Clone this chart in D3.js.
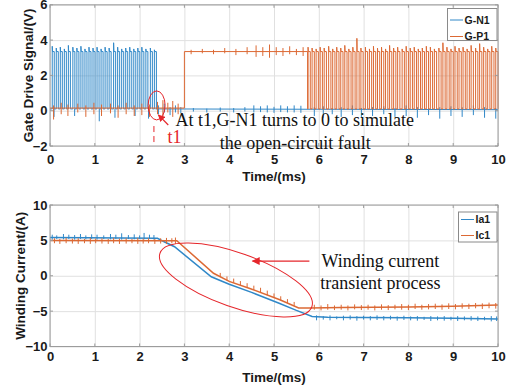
<!DOCTYPE html>
<html>
<head>
<meta charset="utf-8">
<script src="https://cdn.jsdelivr.net/npm/d3@7"></script>
<style>
  html, body { margin: 0; padding: 0; background: #fff; }
  svg { display: block; }
  .tick-label { font-family: "Liberation Sans", Arial, sans-serif; font-weight: bold; font-size: 13px; fill: #1a1a1a; }
  .axis-title { font-family: "Liberation Sans", Arial, sans-serif; font-weight: bold; font-size: 13.5px; fill: #1a1a1a; }
  .legend-text { font-family: "Liberation Sans", Arial, sans-serif; font-weight: bold; font-size: 10.5px; fill: #1a1a1a; }
  .note { font-family: "Liberation Serif", "Times New Roman", serif; font-size: 18px; fill: #111; }
</style>
</head>
<body>
<svg id="chart" width="516" height="389"></svg>
<script>
// ---------- shared axis data ----------
const timeTicks = [0, 1, 2, 3, 4, 5, 6, 7, 8, 9, 10];
const gateTicks = [-2, 0, 2, 4, 6];
const currentTicks = [-10, -5, 0, 5, 10];

// ---------- gate drive signals (V) ----------
const gateLevelLow = 0.1;
const gateLevelHigh = 3.35;
// G-N1 PWM rising edges (ms) before the fault and pulse overshoot peaks (V)
const gn1Rise = [0.05, 0.14, 0.23, 0.32, 0.41, 0.51, 0.60, 0.69, 0.78, 0.87, 0.96, 1.05, 1.14,
                 1.23, 1.32, 1.42, 1.51, 1.60, 1.69, 1.78, 1.87, 1.96, 2.05, 2.14, 2.24, 2.33];
const gn1Peak = [3.65, 3.55, 3.6, 3.5, 3.7, 3.6, 3.55, 3.65, 3.5, 3.6, 3.55, 3.6, 3.5,
                 3.6, 3.55, 3.85, 3.6, 3.5, 3.55, 3.6, 3.5, 3.55, 3.6, 3.5, 3.55, 3.45];
const gn1Width = 0.045;
const gn1FaultTime = 2.36;
// G-N1 noise spikes: [time, low, high]
const gn1Noise = [
  [0.09, -0.35, 0.1], [0.55, -0.3, 0.1], [1.1, -0.6, 0.1], [1.45, -0.4, 0.1], [1.9, -0.3, 0.1], [2.2, -0.45, 0.1],
  [2.42, -0.2, 0.3], [2.55, -0.1, 0.4], [2.68, -0.25, 0.2], [2.8, -0.1, 0.3], [2.92, -0.15, 0.2],
  [3.2, -0.05, 0.15], [3.5, -0.1, 0.12], [3.8, -0.05, 0.18], [4.1, -0.1, 0.15], [4.35, -0.05, 0.2],
  [4.55, -0.1, 0.3], [4.7, -0.08, 0.25], [4.85, -0.1, 0.3], [5.0, -0.12, 0.22], [5.15, -0.08, 0.3],
  [5.3, -0.1, 0.25], [5.45, -0.1, 0.3], [5.6, -0.12, 0.28],
  [5.9, -0.3, 0.2], [6.1, -0.4, 0.25], [6.3, -0.2, 0.15], [6.5, -0.35, 0.2], [6.75, -0.25, 0.3],
  [6.95, -0.4, 0.15], [7.2, -0.3, 0.2], [7.45, -0.2, 0.25], [7.7, -0.35, 0.15], [7.95, -0.3, 0.3],
  [8.2, -0.4, 0.2], [8.45, -0.25, 0.15], [8.7, -0.45, 0.2], [8.95, -0.3, 0.25], [9.2, -0.35, 0.2],
  [9.45, -0.25, 0.3], [9.7, -0.4, 0.2], [9.95, -0.45, 0.15]
];

// G-P1: low until 3 ms, held high until 5.75 ms, then PWM
const gp1StepUp = 3.0;
const gp1PwmStart = 5.75;
const gp1Rise = [5.76, 5.85, 5.94, 6.03, 6.12, 6.22, 6.31, 6.40, 6.49, 6.58, 6.67, 6.76, 6.85, 6.94,
                 7.04, 7.13, 7.22, 7.31, 7.40, 7.49, 7.58, 7.67, 7.76, 7.86, 7.95, 8.04, 8.13, 8.22,
                 8.31, 8.40, 8.49, 8.58, 8.68, 8.77, 8.86, 8.95, 9.04, 9.13, 9.22, 9.31, 9.40, 9.50,
                 9.59, 9.68, 9.77, 9.86, 9.95];
const gp1Peak = [3.6, 3.55, 3.5, 3.6, 3.55, 3.65, 3.5, 3.6, 3.55, 3.7, 3.5, 3.6, 4.1, 3.55,
                 3.6, 3.5, 3.65, 3.55, 3.6, 3.5, 3.7, 3.55, 3.6, 3.5, 3.65, 3.55, 3.6, 3.5,
                 3.55, 3.65, 3.6, 3.5, 3.55, 3.85, 3.6, 3.5, 3.65, 3.55, 3.6, 3.5, 3.7, 3.55,
                 3.8, 3.6, 3.5, 3.65, 3.55];
const gp1Width = 0.05;
const gp1Noise = [
  [0.08, -0.5, 0.3], [0.25, -0.2, 0.45], [0.4, -0.3, 0.35], [0.62, -0.1, 0.4], [0.8, -0.35, 0.3],
  [0.98, -0.2, 0.45], [1.15, -0.3, 0.35], [1.35, -0.15, 0.4], [1.52, -0.4, 0.3], [1.7, -0.2, 0.45],
  [1.88, -0.3, 0.3], [2.05, -0.25, 0.4], [2.22, -0.35, 0.35], [2.4, -0.2, 0.5], [2.52, -0.3, 0.6],
  [2.63, -0.1, 0.45], [2.74, -0.35, 0.55], [2.86, -0.2, 0.4],
  [3.15, 3.2, 3.45], [3.4, 3.25, 3.5], [3.65, 3.2, 3.45], [3.9, 3.25, 3.55], [4.15, 3.15, 3.5],
  [4.4, 3.2, 3.6], [4.6, 3.05, 3.7], [4.75, 3.1, 3.6], [4.9, 3.0, 3.75], [5.05, 3.15, 3.6],
  [5.2, 3.1, 3.55], [5.35, 3.2, 3.65], [5.5, 3.15, 3.5], [5.65, 3.1, 3.6]
];

// ---------- winding currents (A) ----------
const ia1Time  = [0, 2.4, 2.55, 2.78, 3.6, 4.0, 4.5, 5.1, 5.5, 5.85, 6.2, 7, 8, 9, 10];
const ia1Value = [5.4, 5.3, 4.8, 4.1, -0.15, -1.2, -2.35, -3.85, -4.9, -5.75, -5.85, -5.9, -5.95, -6.0, -6.1];
const ic1Time  = [0, 2.83, 3.65, 4.0, 4.46, 5.13, 5.55, 5.8, 6.5, 8, 9, 10];
const ic1Value = [5.0, 4.95, 0.35, -0.8, -1.8, -3.4, -4.55, -4.55, -4.5, -4.4, -4.3, -4.15];
// ripple spikes: [time, low, high]
const ia1Ripple = [
  [0.05, 5.1, 5.8], [0.15, 5.2, 5.7], [0.3, 5.15, 5.9], [0.42, 5.2, 5.8], [0.55, 5.1, 5.75],
  [0.68, 5.2, 5.9], [0.8, 5.15, 5.7], [0.93, 5.2, 5.85], [1.05, 5.1, 5.8], [1.2, 5.2, 5.7],
  [1.35, 5.15, 5.9], [1.47, 5.2, 5.8], [1.6, 5.1, 6.0], [1.75, 5.2, 5.75], [1.88, 5.15, 5.85],
  [2.0, 5.2, 5.7], [2.1, 5.15, 6.05], [2.22, 5.2, 5.8], [2.32, 5.1, 5.75],
  [5.95, -6.3, -5.6], [6.1, -6.2, -5.7], [6.25, -6.3, -5.6], [6.4, -6.15, -5.75], [6.55, -6.3, -5.65],
  [6.7, -6.2, -5.6], [6.85, -6.35, -5.7], [7.0, -6.2, -5.65], [7.15, -6.3, -5.7], [7.3, -6.25, -5.6],
  [7.45, -6.3, -5.7], [7.6, -6.2, -5.65], [7.75, -6.35, -5.75], [7.9, -6.25, -5.65], [8.05, -6.3, -5.75],
  [8.2, -6.35, -5.7], [8.35, -6.25, -5.8], [8.5, -6.4, -5.7], [8.65, -6.3, -5.75], [8.8, -6.35, -5.7],
  [8.95, -6.3, -5.8], [9.1, -6.4, -5.7], [9.25, -6.3, -5.75], [9.4, -6.35, -5.7], [9.55, -6.4, -5.75],
  [9.7, -6.3, -5.8], [9.85, -6.45, -5.7], [9.97, -6.4, -5.75]
];
const ic1Ripple = [
  [0.1, 4.6, 5.3], [0.22, 4.5, 5.2], [0.36, 4.6, 5.35], [0.5, 4.55, 5.25], [0.63, 4.5, 5.3],
  [0.77, 4.6, 5.2], [0.9, 4.5, 5.35], [1.02, 4.6, 5.25], [1.16, 4.55, 5.3], [1.3, 4.5, 5.2],
  [1.42, 4.6, 5.35], [1.55, 4.5, 5.25], [1.7, 4.55, 5.3], [1.83, 4.6, 5.2], [1.96, 4.5, 5.35],
  [2.08, 4.55, 5.25], [2.2, 4.6, 5.3], [2.34, 4.5, 5.2], [2.47, 4.55, 5.3], [2.6, 4.5, 5.35],
  [2.72, 4.6, 5.3], [2.8, 4.5, 5.4],
  [3.8, -0.2, 0.4], [3.95, -0.65, -0.1], [4.1, -1.0, -0.4], [4.25, -1.35, -0.75], [4.4, -1.65, -1.05],
  [4.55, -2.0, -1.4], [4.7, -2.35, -1.7], [4.85, -2.75, -2.1], [5.0, -3.1, -2.5], [5.15, -3.45, -2.9],
  [5.3, -3.85, -3.3], [5.45, -4.25, -3.7],
  [5.9, -4.8, -4.1], [6.05, -4.9, -4.2], [6.2, -4.8, -4.0], [6.35, -4.85, -4.2], [6.5, -4.8, -4.1],
  [6.65, -4.9, -4.2], [6.8, -4.75, -4.05], [6.95, -4.85, -4.15], [7.1, -4.8, -4.1], [7.25, -4.9, -4.2],
  [7.4, -4.8, -4.05], [7.55, -4.85, -4.15], [7.7, -4.75, -4.1], [7.85, -4.8, -4.0], [8.0, -4.85, -4.1],
  [8.15, -4.7, -3.95], [8.3, -4.8, -4.1], [8.45, -4.75, -4.0], [8.6, -4.7, -3.95], [8.75, -4.8, -4.05],
  [8.9, -4.7, -3.9], [9.05, -4.75, -4.0], [9.2, -4.65, -3.9], [9.35, -4.7, -3.95], [9.5, -4.6, -3.85],
  [9.65, -4.7, -3.9], [9.8, -4.6, -3.8], [9.95, -4.65, -3.85]
];

// ---------- styling ----------
const BLUE = "#3088c8";
const ORANGE = "#dc6934";
const RED = "#e5262b";
const GRID = "#e0e0e0";
const FRAME = "#9c9c9c";

const svg = d3.select("#chart");
const defs = svg.append("defs");
defs.append("marker").attr("id", "headSmall").attr("viewBox", "0 0 10 10")
  .attr("refX", 9).attr("refY", 5).attr("markerWidth", 7).attr("markerHeight", 7)
  .attr("markerUnits", "userSpaceOnUse").attr("orient", "auto")
  .append("path").attr("d", "M0,0 L10,5 L0,10 Z").attr("fill", RED);
defs.append("marker").attr("id", "headBig").attr("viewBox", "0 0 10 10")
  .attr("refX", 9).attr("refY", 5).attr("markerWidth", 11).attr("markerHeight", 8)
  .attr("markerUnits", "userSpaceOnUse").attr("orient", "auto")
  .append("path").attr("d", "M0,0 L10,5 L0,10 Z").attr("fill", RED);

// Builds one axes box: grid, frame, tick labels and titles. Returns scales.
function makePanel(cfg) {
  const x = d3.scaleLinear().domain([0, 10]).range([50, 498]);
  const y = d3.scaleLinear().domain([cfg.yTicks[0], cfg.yTicks[cfg.yTicks.length - 1]]).range([cfg.bottom, cfg.top]);
  const h = cfg.bottom - cfg.top, w = 448;
  const g = svg.append("g");

  // grid
  g.append("g").attr("transform", `translate(0,${cfg.bottom})`)
    .call(d3.axisBottom(x).tickValues(timeTicks).tickSize(-h).tickFormat(""))
    .call(s => s.select(".domain").remove())
    .call(s => s.selectAll("line").attr("stroke", GRID).attr("stroke-width", 1));
  g.append("g").attr("transform", "translate(50,0)")
    .call(d3.axisLeft(y).tickValues(cfg.yTicks).tickSize(-w).tickFormat(""))
    .call(s => s.select(".domain").remove())
    .call(s => s.selectAll("line").attr("stroke", GRID).attr("stroke-width", 1));

  // x tick labels
  g.append("g").attr("transform", `translate(0,${cfg.bottom})`)
    .call(d3.axisBottom(x).tickValues(timeTicks).tickSize(0).tickPadding(cfg.xPad))
    .call(s => s.select(".domain").remove())
    .call(s => s.selectAll("text").attr("class", "tick-label").attr("fill", null));
  // y tick labels
  g.append("g").attr("transform", "translate(50,0)")
    .call(d3.axisLeft(y).tickValues(cfg.yTicks).tickSize(0).tickPadding(2.5))
    .call(s => s.select(".domain").remove())
    .call(s => s.selectAll("text").attr("class", "tick-label").attr("fill", null));

  // x title
  g.append("text").attr("class", "axis-title").attr("text-anchor", "middle")
    .attr("x", 274).attr("y", cfg.xTitleY).text("Time/(ms)");
  // y title
  g.append("text").attr("class", "axis-title").attr("text-anchor", "middle")
    .attr("transform", `translate(${cfg.yTitleX},${(cfg.top + cfg.bottom) / 2}) rotate(-90)`)
    .attr("dy", "0.35em").text(cfg.yTitle);

  const plot = svg.append("g");
  const frame = svg.append("g");
  frame.append("rect").attr("x", 50).attr("y", cfg.top).attr("width", w).attr("height", h)
    .attr("fill", "none").attr("stroke", FRAME).attr("stroke-width", 1);
  // small inward ticks on the frame
  timeTicks.forEach(t => {
    frame.append("line").attr("x1", x(t)).attr("x2", x(t)).attr("y1", cfg.bottom).attr("y2", cfg.bottom - 3).attr("stroke", FRAME);
    frame.append("line").attr("x1", x(t)).attr("x2", x(t)).attr("y1", cfg.top).attr("y2", cfg.top + 3).attr("stroke", FRAME);
  });
  cfg.yTicks.forEach(v => {
    frame.append("line").attr("x1", 50).attr("x2", 53).attr("y1", y(v)).attr("y2", y(v)).attr("stroke", FRAME);
    frame.append("line").attr("x1", 498).attr("x2", 495).attr("y1", y(v)).attr("y2", y(v)).attr("stroke", FRAME);
  });
  return { x, y, plot, frame };
}

// PWM pulse points: rise -> overshoot -> high level -> fall
function pulsePoints(rises, peaks, width) {
  const pts = [];
  rises.forEach((r, i) => {
    pts.push([r, gateLevelLow], [r, peaks[i]], [r + 0.006, gateLevelHigh],
             [r + width, gateLevelHigh], [r + width, gateLevelLow]);
  });
  return pts;
}

function spikePath(x, y, spikes) {
  return spikes.map(([t, lo, hi]) => `M${x(t)},${y(lo)}V${y(hi)}`).join("");
}

// ================= upper panel: gate drive signals =================
const gatePanel = makePanel({ top: 4.8, bottom: 146, yTicks: gateTicks, xPad: 8.5, xTitleY: 181,
                              yTitleX: 28, yTitle: "Gate Drive Signal/(V)" });
{
  const { x, y, plot } = gatePanel;
  const line = d3.line().x(d => x(d[0])).y(d => y(d[1]));

  const gn1 = [[0, gateLevelLow], ...pulsePoints(gn1Rise, gn1Peak, gn1Width),
               [gn1FaultTime, gateLevelLow], [10, gateLevelLow - 0.04]];
  plot.append("path").attr("d", line(gn1)).attr("fill", "none").attr("stroke", BLUE).attr("stroke-width", 1);
  plot.append("path").attr("d", spikePath(x, y, gn1Noise)).attr("fill", "none").attr("stroke", BLUE).attr("stroke-width", 1);

  const gp1 = [[0, gateLevelLow + 0.05], [gp1StepUp, gateLevelLow + 0.05], [gp1StepUp, gateLevelHigh],
               [gp1PwmStart, gateLevelHigh], [gp1PwmStart, gateLevelLow],
               ...pulsePoints(gp1Rise, gp1Peak, gp1Width), [10, gateLevelLow]];
  plot.append("path").attr("d", line(gp1)).attr("fill", "none").attr("stroke", ORANGE).attr("stroke-width", 1);
  plot.append("path").attr("d", spikePath(x, y, gp1Noise)).attr("fill", "none").attr("stroke", ORANGE).attr("stroke-width", 1);

  // fault marker
  const ann = svg.append("g");
  ann.append("ellipse").attr("cx", x(2.38)).attr("cy", y(0.3)).attr("rx", 8.5).attr("ry", 14.5)
    .attr("fill", "none").attr("stroke", RED).attr("stroke-width", 1);
  ann.append("line").attr("x1", x(2.32)).attr("x2", x(2.32)).attr("y1", y(-0.87)).attr("y2", y(-2))
    .attr("stroke", RED).attr("stroke-width", 1).attr("stroke-dasharray", "6,4");
  ann.append("line").attr("x1", x(2.64)).attr("y1", y(-0.81)).attr("x2", x(2.42)).attr("y2", y(-0.24))
    .attr("stroke", RED).attr("stroke-width", 1.2).attr("marker-end", "url(#headSmall)");
  ann.append("text").attr("class", "note").attr("x", x(2.62)).attr("y", 142.5).style("fill", RED).text("t1");
  ann.append("text").attr("class", "note").attr("x", x(2.8)).attr("y", 125.5).text("At t1,G-N1 turns to 0 to simulate");
  ann.append("text").attr("class", "note").attr("x", x(3.79)).attr("y", 148.5).text("the open-circuit fault");

  // legend
  const lg = svg.append("g");
  lg.append("rect").attr("x", 447.5).attr("y", 8.5).attr("width", 49.5).attr("height", 32)
    .attr("fill", "#fff").attr("stroke", "#8a8a8a").attr("stroke-width", 1);
  [["G-N1", BLUE, 20], ["G-P1", ORANGE, 36.5]].forEach(([name, c, yy]) => {
    lg.append("line").attr("x1", 450).attr("x2", 463).attr("y1", yy).attr("y2", yy).attr("stroke", c).attr("stroke-width", 1);
    lg.append("text").attr("class", "legend-text").attr("x", 464.5).attr("y", yy).attr("dy", "0.36em").text(name);
  });
}

// ================= lower panel: winding currents =================
const currentPanel = makePanel({ top: 205, bottom: 346.5, yTicks: currentTicks, xPad: 5, xTitleY: 381.5,
                                 yTitleX: 20, yTitle: "Winding Current/(A)" });
{
  const { x, y, plot } = currentPanel;
  const line = d3.line().x(d => x(d[0])).y(d => y(d[1]));
  const ia1 = ia1Time.map((t, i) => [t, ia1Value[i]]);
  const ic1 = ic1Time.map((t, i) => [t, ic1Value[i]]);

  plot.append("path").attr("d", line(ia1)).attr("fill", "none").attr("stroke", BLUE).attr("stroke-width", 1.5);
  plot.append("path").attr("d", spikePath(x, y, ia1Ripple)).attr("fill", "none").attr("stroke", BLUE).attr("stroke-width", 1);
  plot.append("path").attr("d", line(ic1)).attr("fill", "none").attr("stroke", ORANGE).attr("stroke-width", 1.5);
  plot.append("path").attr("d", spikePath(x, y, ic1Ripple)).attr("fill", "none").attr("stroke", ORANGE).attr("stroke-width", 1);

  // transient region callout
  const ann = svg.append("g");
  ann.append("ellipse").attr("rx", 80.5).attr("ry", 27)
    .attr("transform", `translate(${x(4.15)},${y(-0.6)}) rotate(19.4)`)
    .attr("fill", "none").attr("stroke", RED).attr("stroke-width", 1);
  ann.append("line").attr("x1", x(5.79)).attr("y1", y(2.08)).attr("x2", x(4.52)).attr("y2", y(2.08))
    .attr("stroke", RED).attr("stroke-width", 1.2).attr("marker-end", "url(#headBig)");
  ann.append("text").attr("class", "note").attr("x", x(6.06)).attr("y", 266.5).text("Winding current");
  ann.append("text").attr("class", "note").attr("x", x(6.03)).attr("y", 288.5).text("transient process");

  // legend
  const lg = svg.append("g");
  lg.append("rect").attr("x", 458.5).attr("y", 212).attr("width", 38.5).attr("height", 30)
    .attr("fill", "#fff").attr("stroke", "#8a8a8a").attr("stroke-width", 1);
  [["Ia1", BLUE, 219.5], ["Ic1", ORANGE, 235.5]].forEach(([name, c, yy]) => {
    lg.append("line").attr("x1", 461).attr("x2", 474).attr("y1", yy).attr("y2", yy).attr("stroke", c).attr("stroke-width", 1);
    lg.append("text").attr("class", "legend-text").attr("x", 475.5).attr("y", yy).attr("dy", "0.36em").text(name);
  });
}
</script>
</body>
</html>
